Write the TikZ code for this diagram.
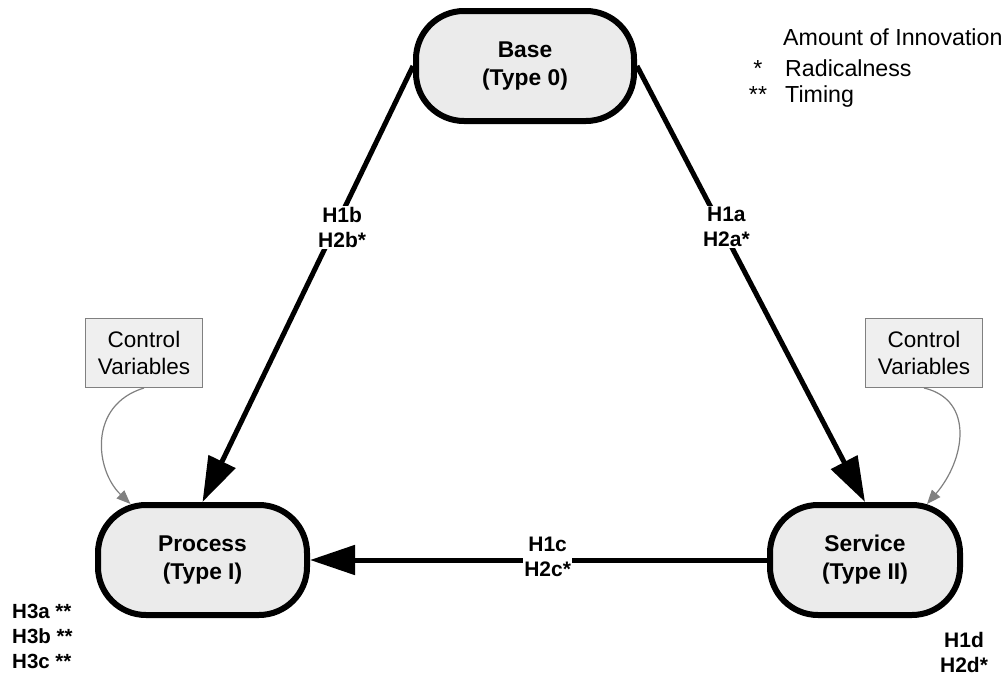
\documentclass[tikz,border=0pt]{standalone}
\usepackage{fontspec}
\setmainfont{Liberation Sans}
\usepackage{xcolor}
\usepackage{tikz}
\usetikzlibrary{arrows.meta}
\definecolor{boxbg}{HTML}{EBEBEB}
\definecolor{ctrlbg}{HTML}{EFEFEF}
\definecolor{ctrlc}{HTML}{808080}
\tikzset{
  ar/.style={-{Triangle[length=45pt,width=29pt]},line width=5pt,black},
  car/.style={-{Triangle[length=14pt,width=11pt]},line width=1.2pt,ctrlc},
  stad/.style={draw,line width=6pt,rounded corners=48pt,fill=boxbg,align=center,minimum height=110pt,inner sep=0pt,font=\fontsize{22.8}{28}\selectfont\bfseries},
  cbox/.style={draw=ctrlc,line width=1.4pt,fill=ctrlbg,align=center,minimum width=116.6pt,minimum height=68.6pt,inner sep=0pt,font=\fontsize{22.5}{27}\selectfont},
  lbl/.style={fill=white,align=center,inner sep=1pt,font=\fontsize{21}{25}\selectfont\bfseries},
  hy/.style={inner sep=0pt,font=\fontsize{20.5}{25}\selectfont\bfseries},
  lg/.style={inner sep=0pt,font=\fontsize{23.2}{28}\selectfont}
}
\begin{document}
\begin{tikzpicture}[x=1pt,y=-1pt]
\useasboundingbox[fill=white] (0,0) rectangle (1007,680);
\node[stad,minimum width=218pt] (base) at (525,66) {Base\\(Type 0)};
\node[stad,minimum width=209pt] (proc) at (202.5,560) {Process\\(Type I)};
\node[stad,minimum width=190pt] (serv) at (865,560) {Service\\(Type II)};
\node[cbox] (cvl) at (144,353) {Control\\Variables};
\node[cbox] (cvr) at (924,353) {Control\\Variables};
\draw[ar] (base.west) -- (proc.north) node[lbl,pos=0.37,xshift=7pt]{H1b\\H2b*};
\draw[ar] (base.east) -- (serv.north) node[lbl,pos=0.37,xshift=5pt]{H1a\\H2a*};
\draw[ar] (serv.west) -- (proc.east) node[lbl,pos=0.48,yshift=3pt]{H1c\\H2c*};
\draw[car] (cvl.south) .. controls (88,405) and (95,470) .. ([xshift=-72pt,yshift=-2pt]proc.north);
\draw[car] (cvr.south) .. controls (975,400) and (965,460) .. ([xshift=62pt,yshift=-2pt]serv.north);
\node[lg,anchor=base west] (lgtitle) at (783,45) {Amount of Innovation};
\node[lg,anchor=base] (lgone) at (758,76) {*};
\node[lg,anchor=base west] (lgrad) at (785,76) {Radicalness};
\node[lg,anchor=base] (lgtwo) at (758,102) {**};
\node[lg,anchor=base west] (lgtime) at (785,102) {Timing};
\node[hy,anchor=base west] (hthreea) at (12,618) {H3a **};
\node[hy,anchor=base west] (hthreeb) at (12,643) {H3b **};
\node[hy,anchor=base west] (hthreec) at (12,668) {H3c **};
\node[lbl,fill=none,inner sep=0pt] (honed) at (964,652) {H1d\\H2d*};
\end{tikzpicture}
\end{document}
